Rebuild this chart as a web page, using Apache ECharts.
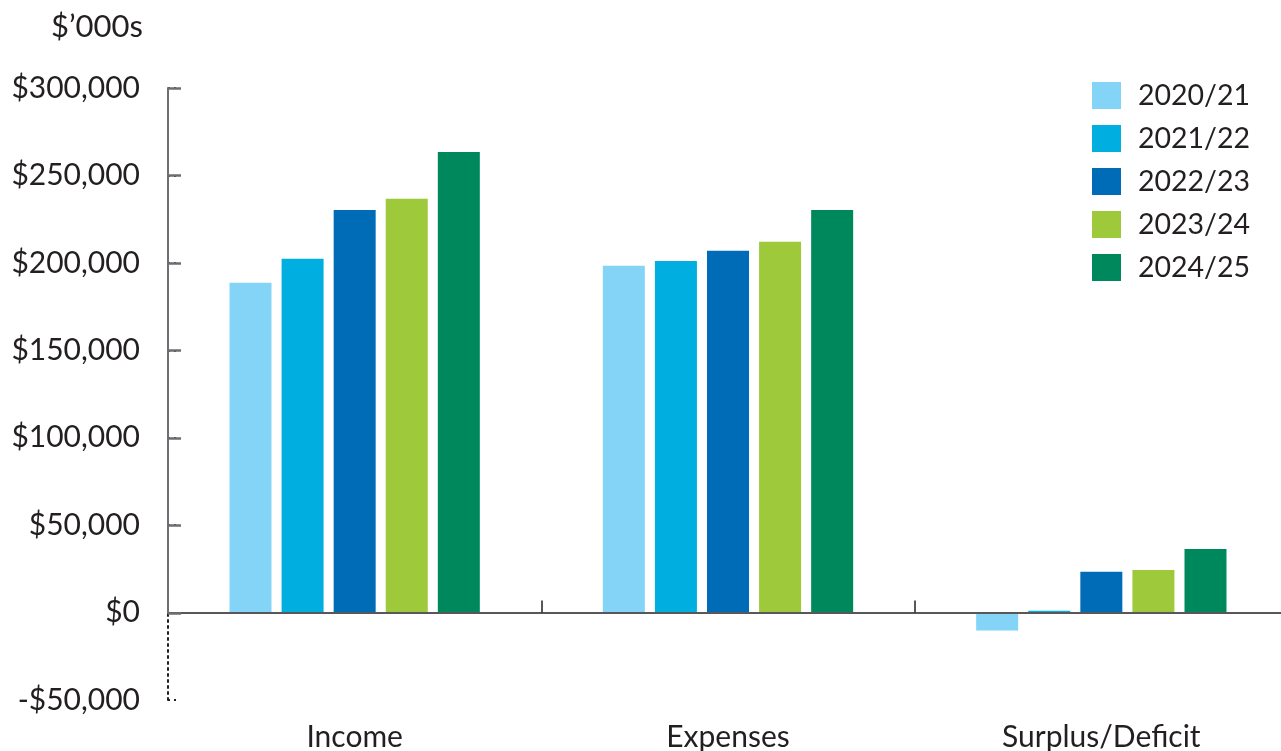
<!DOCTYPE html>
<html>
<head>
<meta charset="utf-8">
<script src="https://cdn.jsdelivr.net/npm/echarts@6/dist/echarts.min.js"></script>
<style>
  html, body { margin: 0; padding: 0; background: #fff; }
  #chart { width: 1281px; height: 751px; }
</style>
</head>
<body>
<div id="chart"></div>
<script>
// data ($'000s)
const categories = ['Income', 'Expenses', 'Surplus/Deficit']
const years = ['2020/21', '2021/22', '2022/23', '2023/24', '2024/25']
const fy2021 = [188600, 198300, -10300]
const fy2122 = [202300, 201100, 1000]
const fy2223 = [230300, 206900, 23300]
const fy2324 = [236600, 212000, 24400]
const fy2425 = [263400, 230300, 36400]
const yTicks = [-50000, 0, 50000, 100000, 150000, 200000, 250000, 300000]

const seriesValues = [fy2021, fy2122, fy2223, fy2324, fy2425]
const colors = ['#83D4F7', '#00AEDF', '#006CB7', '#9DC93B', '#00885D']
const textColor = '#231F20'
const font = 'Lato'

const chart = echarts.init(document.getElementById('chart'))

const fmt = v => (v < 0 ? '-$' : '$') + Math.abs(v).toLocaleString('en-US')

const option = {
  animation: false,
  title: {
    text: '$\u2019000s',
    left: 46,
    top: 6,
    textStyle: { color: textColor, fontSize: 31, fontWeight: 'normal', fontFamily: font }
  },
  legend: {
    data: years,
    orient: 'vertical',
    left: 1087,
    top: 76,
    itemWidth: 29,
    itemHeight: 27,
    itemGap: 14,
    icon: 'rect',
    textStyle: { color: textColor, fontSize: 28.5, fontFamily: font, padding: [0, 0, 0, 12] }
  },
  grid: [
    { left: 168, right: -7, top: 88, bottom: 51, outerBoundsMode: 'none', containLabel: false },
    // overlay grid for the solid part of the y axis (0 to 300,000)
    { left: 168, right: -7, top: 88, bottom: 138, outerBoundsMode: 'none', containLabel: false }
  ],
  xAxis: [
    {
      type: 'category',
      gridIndex: 0,
      data: categories,
      axisLine: { onZero: true, lineStyle: { color: '#58585A', width: 2 } },
      axisTick: { show: true, inside: true, length: 12, lineStyle: { color: textColor, width: 1.5 } },
      axisLabel: { color: textColor, fontSize: 30, fontFamily: font, margin: 22 },
      z: 5
    },
    { type: 'category', gridIndex: 1, data: categories, show: false }
  ],
  yAxis: [
    {
      type: 'value',
      gridIndex: 0,
      min: yTicks[0],
      max: yTicks[yTicks.length - 1],
      interval: 50000,
      axisLine: { show: true, lineStyle: { color: textColor, width: 2, type: [2, 4] } },
      axisTick: { show: true, inside: true, length: 8, lineStyle: { color: textColor, width: 2, type: [2, 4] } },
      axisLabel: { color: textColor, fontSize: 30, fontFamily: font, margin: 28, formatter: fmt },
      splitLine: { show: false }
    },
    {
      type: 'value',
      gridIndex: 1,
      min: 0,
      max: 300000,
      interval: 50000,
      axisLine: { show: true, lineStyle: { color: '#6D6E71', width: 2 } },
      axisTick: { show: true, inside: true, length: 13, lineStyle: { color: '#6D6E71', width: 2.5 } },
      axisLabel: { show: false },
      splitLine: { show: false },
      z: 10
    }
  ],
  series: years.map((name, i) => ({
    name: name,
    type: 'bar',
    xAxisIndex: 0,
    yAxisIndex: 0,
    data: seriesValues[i],
    barWidth: 42,
    barGap: '24%',
    itemStyle: { color: colors[i] }
  }))
}

chart.setOption(option)
</script>
</body>
</html>
